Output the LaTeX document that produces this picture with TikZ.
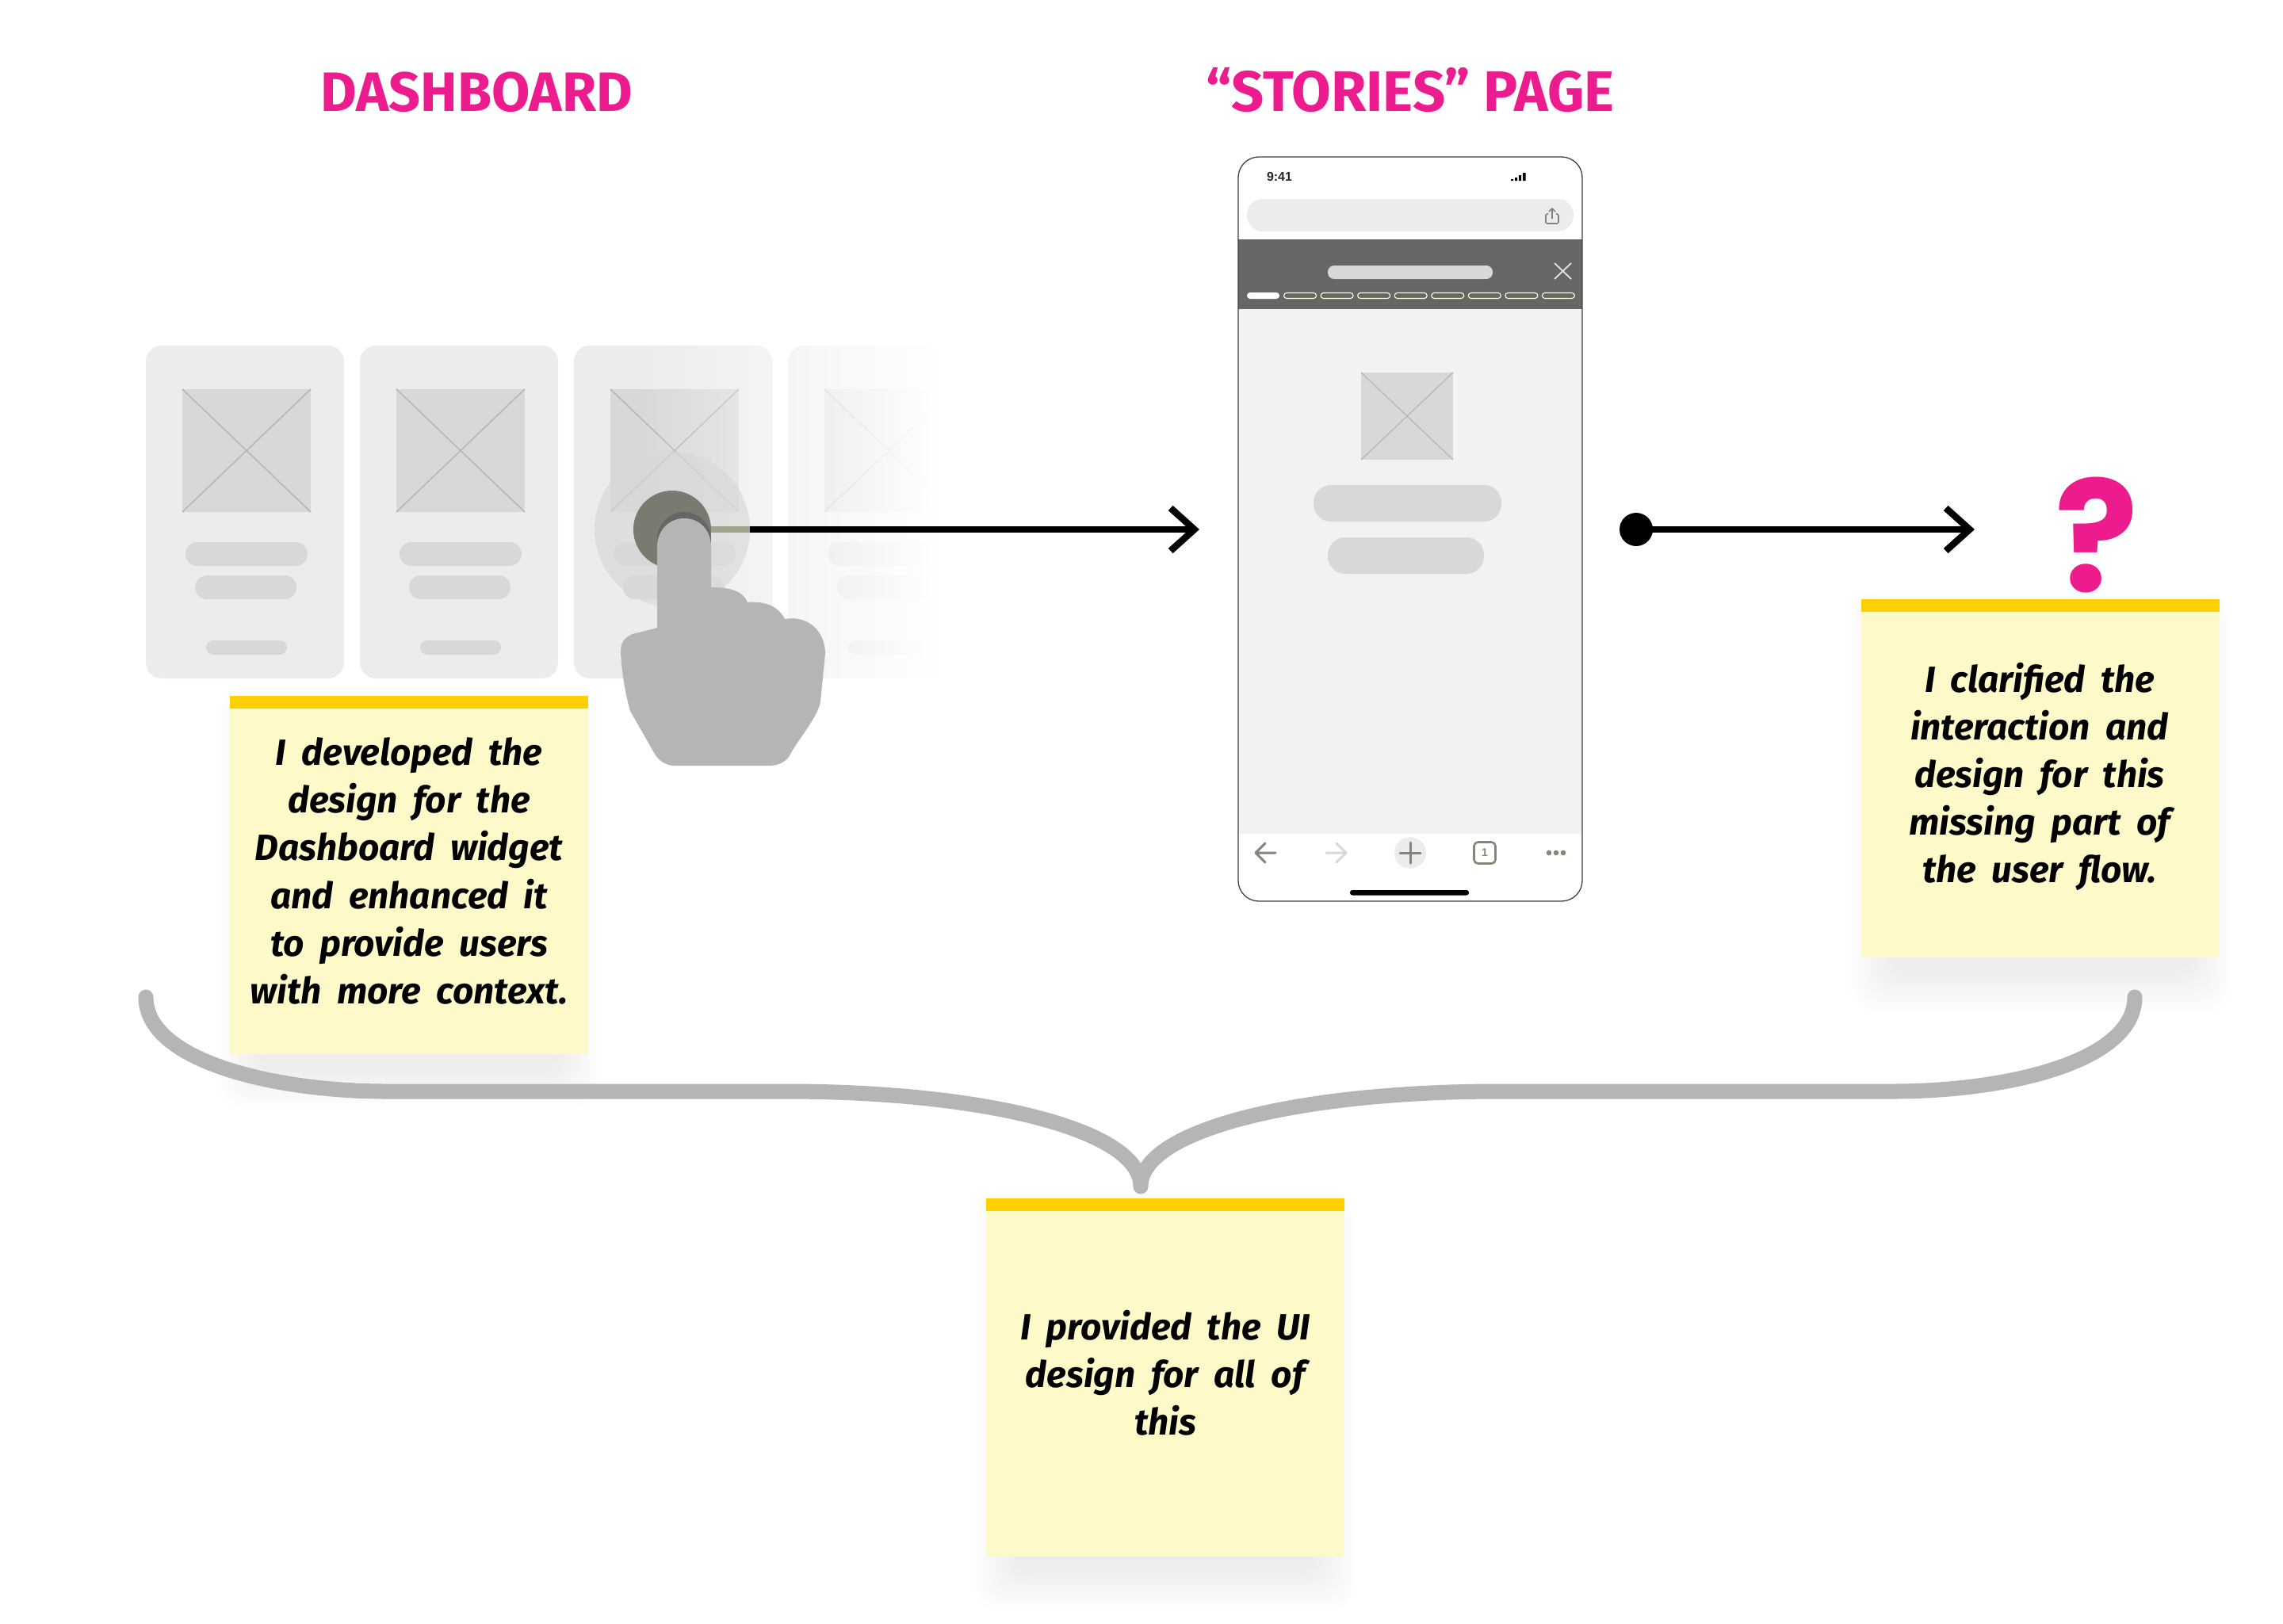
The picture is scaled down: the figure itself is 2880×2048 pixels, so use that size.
\documentclass[tikz,border=0pt]{standalone}
\usepackage{fontspec}
\usetikzlibrary{arrows.meta,fadings}
\newfontfamily\notefont{Fira Sans}
\newfontfamily\headfont{Fira Sans}
\newfontfamily\qfont{Poppins}
\setmainfont{Liberation Sans}
\newcommand{\notefmt}{\notefont\bfseries\itshape\fontsize{46}{60.2}\selectfont\setlength{\spaceskip}{19.5pt}}
\definecolor{cardbg}{HTML}{ECECEC}
\definecolor{screenbg}{HTML}{F2F2F2}
\definecolor{wire}{HTML}{D8D8D8}
\definecolor{wireline}{HTML}{B5B5B5}
\definecolor{notebg}{HTML}{FEF9C8}
\definecolor{notebar}{HTML}{FFD000}
\definecolor{pink}{HTML}{EC1C8E}
\definecolor{band}{HTML}{666664}
\definecolor{icon}{HTML}{85857A}
\definecolor{hand}{HTML}{B5B5B5}
\tikzfading[name=fadeRight,left color=transparent!100,right color=transparent!0]
\tikzset{
  flow/.style={line width=8.5pt,line cap=round,-{Straight Barb[length=30pt,width=54pt]}},
  title/.style={text=pink,font=\headfont\bfseries\fontsize{#1}{#1}\selectfont,inner sep=0pt},
  notetext/.style={align=center,inner sep=0pt,font=\notefmt},
  pill/.style={fill=wire,rounded corners=#1},
  ibar/.style={icon,line width=3pt,line cap=round,line join=round},
}
\newcommand{\wirecard}[1]{%
  \begin{scope}[xshift=#1pt]
    \fill[cardbg,rounded corners=20pt] (184,436) rectangle (434,856);
    \fill[wire] (230,491) rectangle (392,646);
    \draw[wireline,line width=1.5pt] (230,491) -- (392,646) (392,491) -- (230,646);
    \fill[pill=15pt] (234,684) rectangle (388,714);
    \fill[pill=15pt] (246,726) rectangle (374,756);
    \fill[pill=9pt] (260,808) rectangle (362,826);
  \end{scope}}
\newcommand{\stickynote}[2]{%
  \foreach \i in {0,...,17}{
    \fill[black,opacity=0.005,rounded corners=30pt]
      (#1+36-3*\i,#2+40-3*\i) rectangle (#1+452-36+3*\i,#2+470+3*\i);
  }
  \fill[notebg] (#1,#2) rectangle (#1+452,#2+452);
  \fill[notebar] (#1,#2) rectangle (#1+452,#2+16);}
\begin{document}
\begin{tikzpicture}[x=1pt,y=-1pt]
\useasboundingbox (0,0) rectangle (2880,2048);
\fill[white] (0,0) rectangle (2880,2048);

% headings
\node[title=70] (dash) at (601,116) {DASHBOARD};
\node[title=72] (stories) at (1779,114) {“STORIES” PAGE};

% dashboard cards
\wirecard{0}\wirecard{270}\wirecard{540}\wirecard{810}
\fill[white,path fading=fadeRight] (800,430) rectangle (1181,862);
\fill[white] (1181,430) rectangle (1250,862);

% phone
\fill[white] (1562,198) [rounded corners=26pt] rectangle (1996,1137);
\fill[screenbg] (1562,390) rectangle (1996,1052);
\fill[band] (1562,302) rectangle (1996,390);
\fill[cardbg,rounded corners=20pt] (1573,251) rectangle (1985,292);
\draw[icon,line width=1.6pt,line join=round,rounded corners=1.5pt] (1953,270) -- (1950,270) -- (1950,282) -- (1966,282) -- (1966,270) -- (1963,270);
\draw[icon,line width=1.6pt,line join=round] (1958,276) -- (1958,263) (1954,267) -- (1958,263) -- (1962,267);
\node[font=\bfseries\fontsize{16}{16}\selectfont,inner sep=0pt,text=black!85] (clock) at (1614,223) {9:41};
\fill[black] (1906,226) rectangle (1909,228) (1911,224) rectangle (1914,228) (1916,221) rectangle (1919,228) (1921,218) rectangle (1924.5,228);
\fill[pill=8pt] (1675,335) rectangle (1883,352);
\draw[white!90!black,line width=1.8pt] (1961,332) -- (1982,352) (1982,332) -- (1961,352);
\fill[white,rounded corners=3.9pt] (1573,369) rectangle (1614,377);
\foreach \k in {1,...,8}{
  \draw[white!85!yellow,line width=1.1pt,rounded corners=3.5pt] (1573+46.55*\k,369.5) rectangle (1614+46.55*\k,376.5);
}
\fill[wire] (1717,470) rectangle (1833,580);
\draw[wireline,line width=1.2pt] (1717,470) -- (1833,580) (1833,470) -- (1717,580);
\fill[pill=22pt] (1657,612) rectangle (1894,658);
\fill[pill=22pt] (1675,678) rectangle (1872,724);
% browser toolbar
\draw[ibar] (1609,1076) -- (1585,1076) (1596,1064) -- (1584,1076) -- (1596,1088);
\draw[ibar,wire] (1673,1076) -- (1697,1076) (1686,1064) -- (1698,1076) -- (1686,1088);
\fill[cardbg] (1779,1076) circle (20);
\draw[ibar] (1766,1076) -- (1792,1076) (1779,1063) -- (1779,1089);
\draw[icon,line width=2.6pt,rounded corners=5pt] (1859.5,1062.5) rectangle (1886.5,1089.5);
\node[font=\bfseries\fontsize{14}{14}\selectfont,inner sep=0pt,text=icon] (tabs) at (1873,1076) {1};
\fill[icon] (1954,1076) circle (3.3) (1963,1076) circle (3.3) (1972,1076) circle (3.3);
\fill[black,rounded corners=3pt] (1703,1123) rectangle (1853,1129.5);
\draw[black!75,line width=1.3pt,rounded corners=26pt] (1562,198) rectangle (1996,1137);

% first connector and tap marker
\coordinate (tapc) at (848,668);
\coordinate (end1) at (1513,668);
\draw[flow] (tapc) -- (end1);
\node[circle,inner sep=0pt,minimum size=196pt,fill=wire,fill opacity=0.65] (ring) at (848,668) {};
\draw[line width=8.5pt,color={rgb,255:red,163;green,163;blue,141}] (tapc) -- (ring.east);
\node[circle,inner sep=0pt,minimum size=98pt,fill={rgb,255:red,122;green,122;blue,112}] (tap) at (848,668) {};
\fill[band] (863,680) circle (34);

% sticky notes (below the hand)
\stickynote{290}{878}
\stickynote{2348}{756}
\stickynote{1244}{1512}

% hand
\fill[hand] (829,690)
  .. controls (829,668) and (845,654) .. (863,654)
  .. controls (882,654) and (897,668) .. (897,690)
  -- (897,741)
  .. controls (920,741) and (937,745) .. (943,760)
  .. controls (965,758) and (982,765) .. (990,781)
  .. controls (1018,776) and (1041,795) .. (1041,825)
  -- (1035,885)
  .. controls (1032,905) and (1005,935) .. (995,955)
  .. controls (990,962) and (980,966) .. (971,966)
  -- (851,966)
  .. controls (840,966) and (832,960) .. (827,953)
  -- (795,897)
  .. controls (790,880) and (784,850) .. (783,821)
  .. controls (783,808) and (792,800) .. (806,798)
  -- (829,792) -- cycle;

% second connector and question mark
\node[circle,inner sep=0pt,minimum size=42pt,fill=black] (dot2) at (2064,668) {};
\coordinate (end2) at (2491,668);
\draw[flow] (dot2.center) -- (end2);
\node[inner sep=0pt,text=pink,font=\qfont\bfseries\fontsize{195}{195}\selectfont] (qmark) at (2645,675) {?};

% brace
\coordinate (bl) at (184,1258);
\coordinate (bm) at (1439,1497);
\coordinate (br) at (2693,1258);
\draw[wireline,line width=19pt,line cap=round,line join=round]
  (bl) .. controls (184,1340) and (350,1377) .. (487,1377) -- (992,1377)
  .. controls (1240,1377) and (1439,1425) .. (bm)
  .. controls (1439,1425) and (1640,1377) .. (1892,1377) -- (2388,1377)
  .. controls (2530,1377) and (2693,1340) .. (br);

% note texts
\node[notetext] (n1) at (516,1099) {I developed the\\design for the\\Dashboard widget\\and enhanced it\\to provide users\\with more context.};
\node[notetext] (n2) at (2573,980) {I clarified the\\interaction and\\design for this\\missing part of\\the user flow.};
\node[notetext] (n3) at (1470,1732) {I provided the UI\\design for all of\\this};
\end{tikzpicture}
\end{document}
